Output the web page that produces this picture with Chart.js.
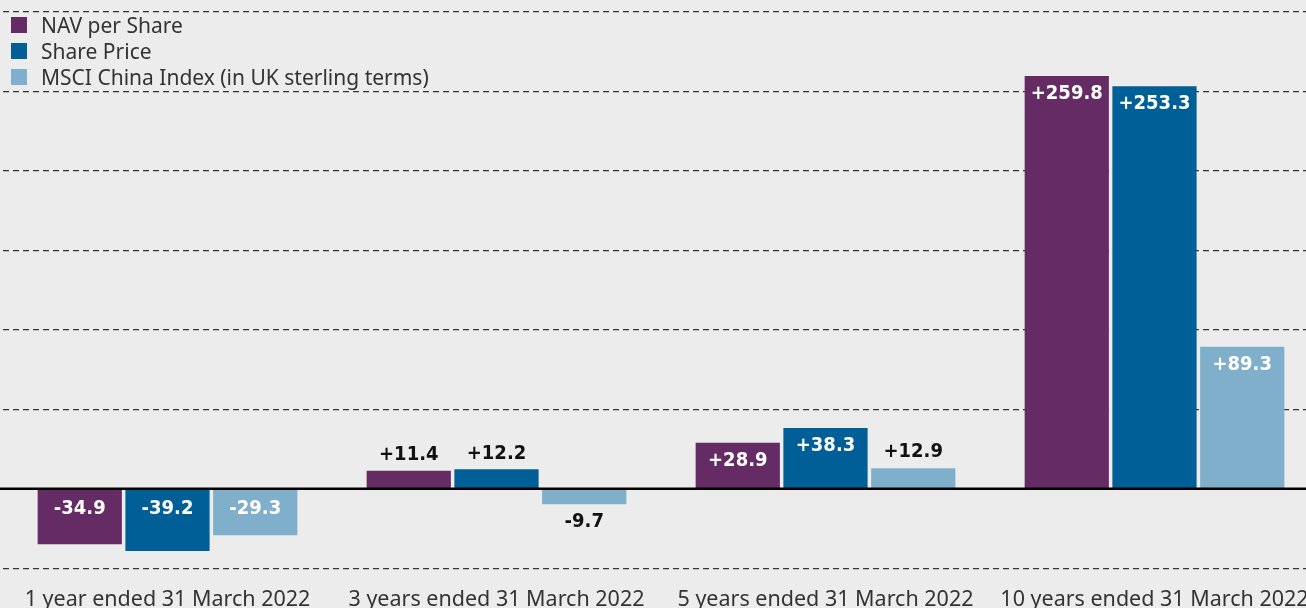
<!DOCTYPE html>
<html>
<head>
<meta charset="utf-8">
<script src="https://cdn.jsdelivr.net/npm/chart.js@4.4.0/dist/chart.umd.min.js"></script>
<style>
    html, body { margin: 0; padding: 0; background: #ececec; overflow: hidden; width: 1306px; height: 608px; }
    #wrap { position: relative; width: 1306px; height: 608px; overflow: hidden; }
    #chart { position: absolute; left: 0; top: 0; }
    #legend { position: absolute; left: 11px; top: 12px; font-family: "Noto Sans", sans-serif; font-size: 21px; color: #333; }
    .item { height: 26px; line-height: 26px; display: flex; align-items: center; }
    .box { width: 16px; height: 16px; margin-right: 14px; }
</style>
</head>
<body>
<div id="wrap">
    <canvas id="chart" width="1322" height="632" style="width:1322px;height:632px"></canvas>
    <div id="legend"></div>
</div>
<script>
// Chart data
const categories = ['1 year ended 31 March 2022', '3 years ended 31 March 2022', '5 years ended 31 March 2022', '10 years ended 31 March 2022'];
const seriesNames = ['NAV per Share', 'Share Price', 'MSCI China Index (in UK sterling terms)'];
const navPerShare = [-34.9, 11.4, 28.9, 259.8];
const sharePrice = [-39.2, 12.2, 38.3, 253.3];
const msciChina = [-29.3, -9.7, 12.9, 89.3];
const yMin = -50;
const yMax = 300;
const yStep = 50;

const colors = ['#652b65', '#005f96', '#80afcc'];

// Legend
const legend = document.getElementById('legend');
seriesNames.forEach((name, i) => {
    const row = document.createElement('div');
    row.className = 'item';
    row.innerHTML = `<div class="box" style="background:${colors[i]}"></div><span>${name}</span>`;
    legend.appendChild(row);
});

function formatValue(v) {
    return (v > 0 ? '+' : '') + v.toFixed(1);
}

// Zero line + value labels
const labelPlugin = {
    id: 'valueLabels',
    afterDatasetsDraw(chart) {
        const ctx = chart.ctx;
        const y = chart.scales.y;
        const area = chart.chartArea;
        const zeroY = y.getPixelForValue(0);

        ctx.save();
        ctx.strokeStyle = '#000';
        ctx.lineWidth = 2.5;
        ctx.beginPath();
        ctx.moveTo(0, zeroY);
        ctx.lineTo(area.right, zeroY);
        ctx.stroke();

        ctx.font = 'bold 20px "DejaVu Sans Condensed", "DejaVu Sans", sans-serif';
        ctx.textAlign = 'center';
        ctx.textBaseline = 'middle';
        chart.data.datasets.forEach((ds, di) => {
            const meta = chart.getDatasetMeta(di);
            meta.data.forEach((bar, i) => {
                const v = ds.data[i];
                const h = Math.abs(bar.y - bar.base);
                const inside = h > 40;
                let ty;
                if (v >= 0) {
                    ty = inside ? bar.y + 18 : bar.y - 16;
                } else {
                    ty = inside ? bar.base + 19 : bar.y + 18;
                }
                ctx.fillStyle = inside ? '#fff' : '#111';
                ctx.fillText(formatValue(v), bar.x, ty);
            });
        });
        ctx.restore();
    }
};

new Chart(document.getElementById('chart').getContext('2d'), {
    type: 'bar',
    data: {
        labels: categories,
        datasets: [
            { label: seriesNames[0], data: navPerShare, backgroundColor: colors[0] },
            { label: seriesNames[1], data: sharePrice, backgroundColor: colors[1] },
            { label: seriesNames[2], data: msciChina, backgroundColor: colors[2] }
        ]
    },
    options: {
        responsive: false,
        animation: false,
        devicePixelRatio: 1,
        categoryPercentage: 0.8,
        barPercentage: 0.96,
        layout: { padding: { left: 3, right: 3, top: 12, bottom: 0 } },
        plugins: {
            legend: { display: false },
            tooltip: { enabled: false }
        },
        scales: {
            x: {
                grid: { display: false, drawTicks: false },
                border: { display: false },
                ticks: {
                    color: '#333',
                    padding: 19,
                    maxRotation: 0,
                    font: { family: '"Noto Sans", sans-serif', size: 21.5 }
                },
                // labels may run past the edges, keep the full plot width
                afterFit: (scale) => {
                    scale.paddingLeft = 0;
                    scale.paddingRight = 0;
                }
            },
            y: {
                min: yMin,
                max: yMax,
                ticks: { display: false, stepSize: yStep },
                border: { display: false, dash: [6, 4] },
                grid: {
                    drawTicks: false,
                    lineWidth: 1.2,
                    color: (c) => c.tick && c.tick.value === 0 ? 'rgba(0,0,0,0)' : '#333'
                }
            }
        }
    },
    plugins: [labelPlugin]
});
</script>
</body>
</html>
